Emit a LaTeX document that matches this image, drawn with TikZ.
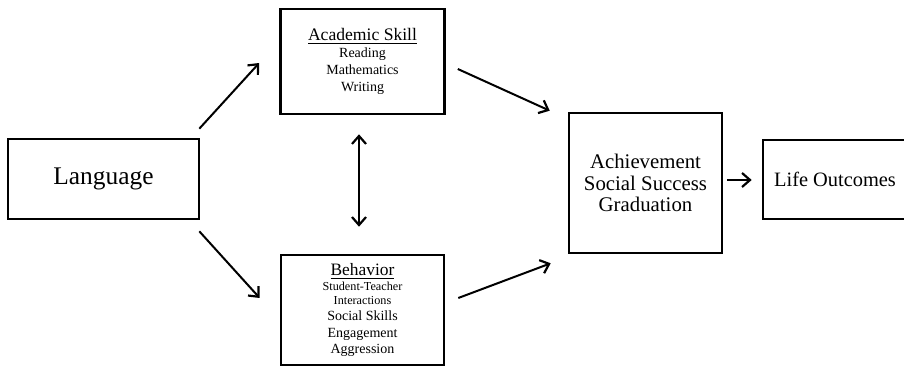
\documentclass[tikz,border=0pt]{standalone}
\usepackage{fontspec}
\setmainfont{Liberation Serif}
\usepackage{tikz}
\usetikzlibrary{arrows.meta, positioning}

\begin{document}
\begin{tikzpicture}[x=0.5pt, y=-0.5pt]
	
	% --- STYLES ---
	\tikzstyle{box} = [rectangle, draw=black, line width=1.3pt, align=center, inner sep=0pt]
	\tikzstyle{arrow} = [line width=1pt, -{Straight Barb[length=4pt, width=7pt, line width=1.1pt]}]
	\tikzstyle{twoway} = [line width=1pt, {Straight Barb[length=4pt, width=7pt, line width=1.1pt]}-{Straight Barb[length=4pt, width=7pt, line width=1.1pt]}]
	
	\useasboundingbox (0,0) rectangle (904,367);
	
	% --- NODES ---
	
	% 1. Input
	\node (lang) [box, minimum width=95.5pt, minimum height=40pt, font=\fontsize{12.7}{14}\selectfont] at (103.5,179) {Language};
	
	% 2. Two pathways
	\node (acad) [box, minimum width=82pt, minimum height=52.5pt, font=\fontsize{7}{8.4}\selectfont] at (362.5,61.5) {
		{\fontsize{8.8}{10}\selectfont\underline{Academic Skill}}\\
		Reading\\
		Mathematics\\
		Writing
	};
	\node (behav) [box, minimum width=81.5pt, minimum height=55pt, font=\fontsize{7}{8.4}\selectfont] at (362.5,310) {
		{\fontsize{8.7}{10}\selectfont\underline{Behavior}}\\[-1pt]
		{\fontsize{6.1}{7}\selectfont Student-Teacher}\\[-1.5pt]
		{\fontsize{6.1}{7}\selectfont Interactions}\\
		Social Skills\\
		Engagement\\[-0.5pt]
		Aggression
	};
	
	% 3. School results
	\node (achv) [box, minimum width=76.5pt, minimum height=70pt, font=\fontsize{10.4}{10.8}\selectfont] at (645.5,183) {
		Achievement\\
		Social Success\\
		Graduation
	};
	
	% 4. Final result (runs past the right edge)
	\node (life) [box, minimum width=72pt, minimum height=39.5pt, font=\fontsize{10.2}{12}\selectfont] at (835,179.5) {Life Outcomes};
	
	% --- ARROWS ---
	\draw [arrow] ([shift={(-1,-9)}]lang.north east) -- ([shift={(-20,1.5)}]acad.west);
	\draw [arrow] ([shift={(-1,11)}]lang.south east) -- ([shift={(-20,-12)}]behav.west);
	
	% Skills and behaviour feed each other
	\draw [twoway] ([shift={(-3.5,19)}]acad.south) -- ([shift={(-3.5,-27)}]behav.north);
	
	\draw [arrow] ([shift={(12,7.5)}]acad.east) -- ([shift={(-18,-1)}]achv.north west);
	\draw [arrow] ([shift={(13,-12)}]behav.east) -- ([shift={(-17,9)}]achv.south west);
	
	% Final
	\draw [arrow] ([shift={(4,-3)}]achv.east) -- ([shift={(-10,0.5)}]life.west);
	
\end{tikzpicture}
\end{document}
